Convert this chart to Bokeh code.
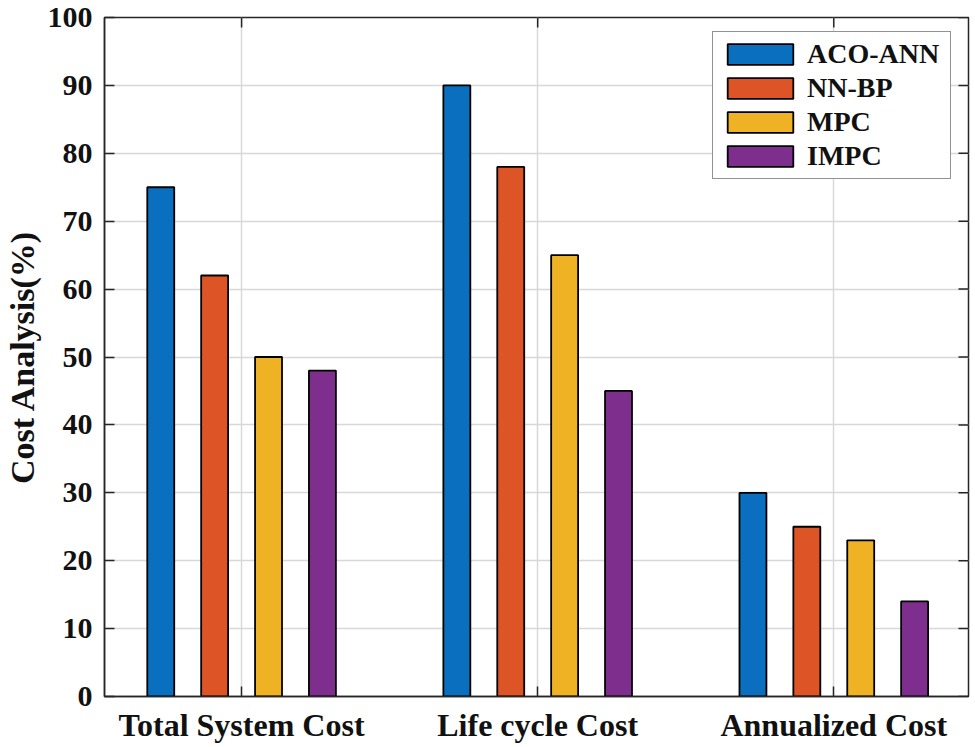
import math
from bokeh.plotting import figure
from bokeh.models import (ColumnDataSource, Range1d, FixedTicker, Legend, LegendItem)
from bokeh.transform import dodge
from bokeh.embed import file_html
from bokeh.resources import INLINE

categories = ["Total System Cost", "Life cycle Cost", "Annualized Cost"]
methods = ["ACO-ANN", "NN-BP", "MPC", "IMPC"]
aco_ann = [75, 90, 30]
nn_bp = [62, 78, 25]
mpc = [50, 65, 23]
impc = [48, 45, 14]
y_ticks = [0, 10, 20, 30, 40, 50, 60, 70, 80, 90, 100]

colors = ["#0B6FC0", "#DD5526", "#EEB224", "#7E2F8E"]
offsets = [-0.273, -0.091, 0.091, 0.273]
bar_width = 0.091

x_pos = [1, 2, 3]
X_START, X_END = 0.537, 3.455
Y_START, Y_END = 0, 100

source = ColumnDataSource(dict(x=x_pos, aco_ann=aco_ann, nn_bp=nn_bp, mpc=mpc, impc=impc))
cols = ["aco_ann", "nn_bp", "mpc", "impc"]

FONT = "Liberation Serif"
TXT = "#111111"
AX = "#262626"

p = figure(width=970, height=745, output_backend="svg", toolbar_location=None,
           x_range=Range1d(X_START, X_END), y_range=Range1d(Y_START, Y_END),
           min_border_left=103, min_border_right=2, min_border_top=17, min_border_bottom=49)
p.background_fill_color = "white"
p.border_fill_color = "white"
p.outline_line_color = AX
p.outline_line_width = 1.5

# grid
p.xgrid.ticker = FixedTicker(ticks=x_pos)
p.ygrid.ticker = FixedTicker(ticks=y_ticks)
for g in (p.xgrid[0], p.ygrid[0]):
    g.grid_line_color = "#d8d8d8"
    g.grid_line_width = 1.5

renderers = []
for col, off, c in zip(cols, offsets, colors):
    r = p.vbar(x=dodge("x", off, range=p.x_range), top=col, bottom=0, width=bar_width,
               source=source, fill_color=c, line_color="#000000", line_width=1.8)
    renderers.append(r)

# inward ticks on the right and top edges of the box
p.ray(x=[X_END] * len(y_ticks), y=y_ticks, length=10, length_units="screen",
      angle=math.pi, line_color=AX, line_width=1.5)
p.ray(x=x_pos, y=[Y_END] * len(x_pos), length=10, length_units="screen",
      angle=-math.pi / 2, line_color=AX, line_width=1.5)

# axes
xa = p.xaxis[0]
xa.ticker = FixedTicker(ticks=x_pos)
xa.major_label_overrides = {x: c for x, c in zip(x_pos, categories)}
ya = p.yaxis[0]
ya.ticker = FixedTicker(ticks=y_ticks)
ya.axis_label = "Cost Analysis(%)"
ya.axis_label_text_font = FONT
ya.axis_label_text_font_style = "bold"
ya.axis_label_text_font_size = "34px"
ya.axis_label_text_color = TXT
ya.axis_label_standoff = 4

for ax in (xa, ya):
    ax.major_label_text_font = FONT
    ax.major_label_text_font_style = "bold"
    ax.major_label_text_color = TXT
    ax.major_tick_in = 10
    ax.major_tick_out = 0
    ax.minor_tick_in = 0
    ax.minor_tick_out = 0
    ax.axis_line_color = AX
    ax.axis_line_width = 1.5
    ax.major_tick_line_color = AX
    ax.major_tick_line_width = 1.5
xa.major_label_text_font_size = "32px"
xa.major_label_standoff = 10
ya.major_label_text_font_size = "30px"
ya.major_label_standoff = 12

legend = Legend(items=[LegendItem(label=m, renderers=[r]) for m, r in zip(methods, renderers)],
                location=(608, 517))
legend.label_text_font = FONT
legend.label_text_font_style = "bold"
legend.label_text_font_size = "28px"
legend.label_text_color = TXT
legend.glyph_width = 82
legend.glyph_height = 26
legend.label_height = 26
legend.label_width = 137
legend.label_standoff = 6
legend.spacing = 2
legend.padding = 6
legend.border_line_color = AX
legend.border_line_width = 1.5
legend.background_fill_color = "white"
legend.background_fill_alpha = 1.0
p.add_layout(legend, "center")

open("out.html", "w").write(file_html(p, INLINE))
